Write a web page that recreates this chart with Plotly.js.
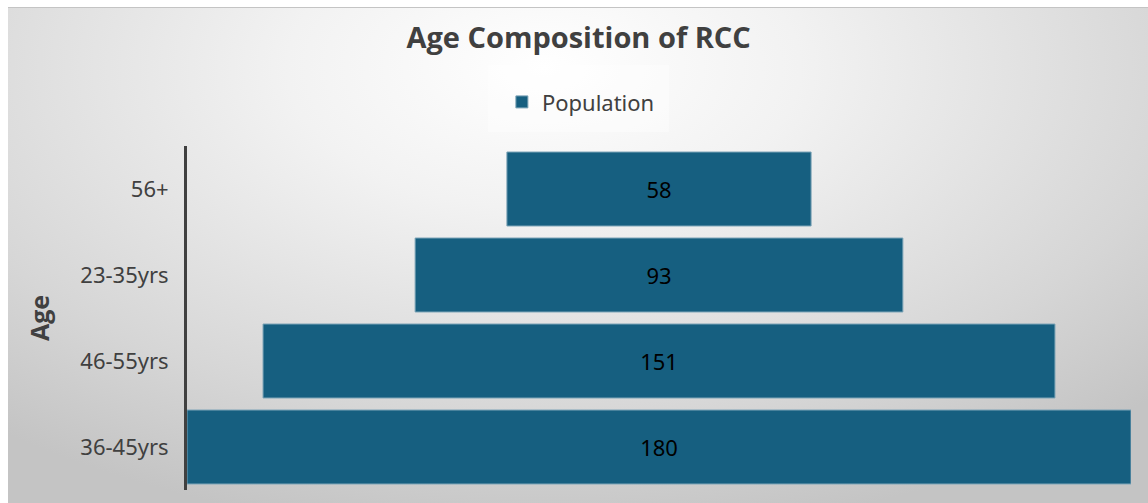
<!DOCTYPE html>
<html>
<head>
<meta charset="utf-8">
<script src="https://cdn.plot.ly/plotly-3.0.1.min.js"></script>
<style>
  html, body { margin: 0; padding: 0; background: #ffffff; }
  #bg { position: absolute; left: 8px; top: 7px; width: 1140px; height: 496px;
        border-top: 1px solid #c4c4c4;
        background: radial-gradient(ellipse 75% 95% at 47% 12%, #ffffff 0%, #f2f2f2 30%, #d6d6d6 75%, #c4c4c4 100%); }
  #chart { position: absolute; left: 0; top: 0; width: 1148px; height: 503px; }
</style>
</head>
<body>
<div id="bg"></div>
<div id="chart"></div>
<script>
const categories = ["56+", "23-35yrs", "46-55yrs", "36-45yrs"];
const population = [58, 93, 151, 180];
const seriesName = "Population";

const maxVal = Math.max(...population);

const trace = {
  type: "funnel",
  name: seriesName,
  y: categories,
  x: population,
  orientation: "h",
  textinfo: "value",
  textposition: "inside",
  insidetextanchor: "middle",
  textfont: { family: "Noto Sans, Open Sans, sans-serif", size: 22, color: "#000000" },
  marker: { color: "#165f80", line: { color: "#7aa3b6", width: 1 } },
  connector: { visible: false },
  showlegend: true,
  hoverinfo: "x+y"
};

const layout = {
  width: 1148, height: 503,
  paper_bgcolor: "rgba(0,0,0,0)",
  plot_bgcolor: "rgba(0,0,0,0)",
  margin: { l: 187, r: 17, t: 146, b: 13 },
  font: { family: "Noto Sans, Open Sans, sans-serif", color: "#404040" },
  title: {
    text: "<b>Age Composition of RCC</b>",
    font: { family: "Open Sans, Noto Sans, sans-serif", size: 29, color: "#404040" },
    x: 0.504, xanchor: "center", xref: "container",
    y: 0.924, yanchor: "middle", yref: "container"
  },
  funnelgap: 0.14,
  showlegend: true,
  legend: {
    orientation: "h",
    x: 0.506, xref: "container", xanchor: "center",
    y: 0.797, yref: "container", yanchor: "middle",
    bgcolor: "rgba(0,0,0,0)",
    font: { family: "Noto Sans, Open Sans, sans-serif", size: 22, color: "#404040" }
  },
  shapes: [{
    type: "rect", xref: "paper", yref: "paper", layer: "below",
    x0: 0.3189, x1: 0.5106, y0: 1.0407, y1: 1.2355,
    fillcolor: "rgba(255,255,255,0.4)", line: { width: 0 }
  }],
  xaxis: { visible: false, fixedrange: true, range: [-maxVal / 2, maxVal / 2] },
  yaxis: {
    showline: true, linecolor: "#404040", linewidth: 3,
    ticks: "", ticklabelstandoff: 11,
    tickfont: { family: "Noto Sans, Open Sans, sans-serif", size: 22, color: "#404040" },
    title: { text: "<b>Age</b>", font: { family: "Open Sans, Noto Sans, sans-serif", size: 25, color: "#404040" }, standoff: 24 },
    showgrid: false, zeroline: false, fixedrange: true
  }
};

Plotly.newPlot("chart", [trace], layout, { displayModeBar: false });
</script>
</body>
</html>
